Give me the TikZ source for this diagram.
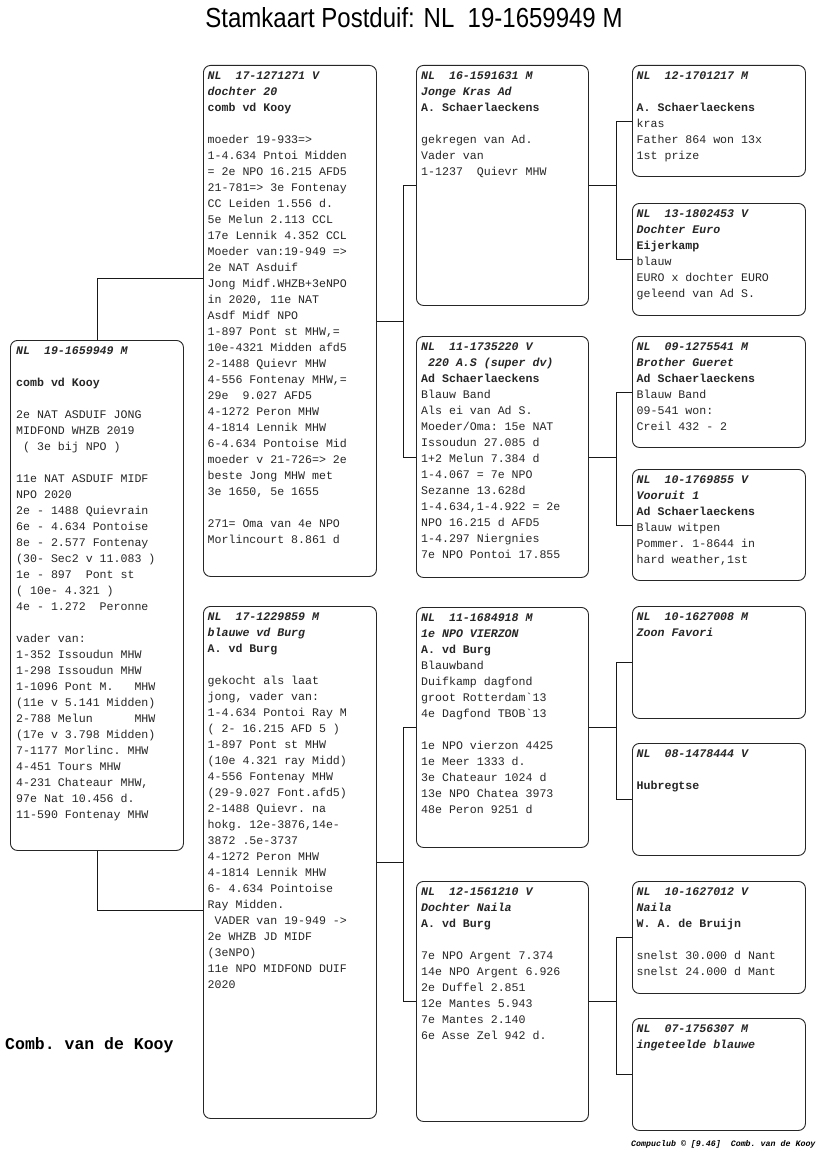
\documentclass[tikz,border=0pt]{standalone}
\usepackage{graphicx}
\usepackage{fontspec}
\setmonofont{Liberation Mono}
\newfontfamily\titlefont{Liberation Sans}
\tikzset{
  famBox/.style={draw=black!85, line width=0.9pt, rounded corners=7pt, inner sep=0pt, anchor=north west, fill=white},
  txt/.style={anchor=north west, inner sep=0pt, align=left, text=black!85,
    font=\ttfamily\fontsize{11.6}{16}\selectfont\frenchspacing},
  link/.style={draw=black!90, line width=0.8pt},
}
\newcommand\hd[1]{\textbf{\textit{#1}}}
\newcommand\nm[1]{\textbf{\textit{#1}}}
\newcommand\br[1]{\textbf{#1}}
\newcommand\lsp{\hphantom{x}}
\begin{document}
\begin{tikzpicture}[x=1pt,y=-1pt]
\useasboundingbox[fill=white] (0,0) rectangle (816,1172);

% title
\node[font=\titlefont\fontsize{24}{24}\selectfont] (title) at (414,18) {\scalebox{1}[1.15]{Stamkaart Postduif: NL\ \ 19-1659949 M}};

% boxes
\node[famBox, minimum width=173pt, minimum height=510pt] (A) at (10,340) {};
\node[famBox, minimum width=173pt, minimum height=511pt] (B) at (203,65) {};
\node[famBox, minimum width=173pt, minimum height=512pt] (C) at (203,606) {};
\node[famBox, minimum width=172pt, minimum height=240pt] (D) at (416,65) {};
\node[famBox, minimum width=172pt, minimum height=241pt] (E) at (416,336) {};
\node[famBox, minimum width=172pt, minimum height=240pt] (F) at (416,607) {};
\node[famBox, minimum width=172pt, minimum height=240pt] (G) at (416,881) {};
\node[famBox, minimum width=173pt, minimum height=111pt] (H) at (632,65) {};
\node[famBox, minimum width=173pt, minimum height=112pt] (I) at (632,203) {};
\node[famBox, minimum width=173pt, minimum height=111pt] (J) at (632,336) {};
\node[famBox, minimum width=173pt, minimum height=111pt] (K) at (632,469) {};
\node[famBox, minimum width=173pt, minimum height=112pt] (L) at (632,606) {};
\node[famBox, minimum width=173pt, minimum height=112pt] (M) at (632,743) {};
\node[famBox, minimum width=173pt, minimum height=112pt] (N) at (632,881) {};
\node[famBox, minimum width=173pt, minimum height=112pt] (O) at (632,1018) {};

% connectors
\draw[link] (A.north) |- ([yshift=42.5pt]B.west);
\draw[link] (A.south) |- ([yshift=-48pt]C.west);
\draw[link] (B.east) -- ++(26,0) coordinate (bj);
\draw[link] (bj) |- (D.west);
\draw[link] (bj) |- (E.west);
\draw[link] (C.east) -- ++(26,0) coordinate (cj);
\draw[link] (cj) |- (F.west);
\draw[link] (cj) |- (G.west);
\draw[link] (D.east) -- ++(27,0) coordinate (dj);
\draw[link] (dj) |- (H.west);
\draw[link] (dj) |- (I.west);
\draw[link] (E.east) -- ++(27,0) coordinate (ej);
\draw[link] (ej) |- (J.west);
\draw[link] (ej) |- (K.west);
\draw[link] (F.east) -- ++(27,0) coordinate (fj);
\draw[link] (fj) |- (L.west);
\draw[link] (fj) |- (M.west);
\draw[link] (G.east) -- ++(27,0) coordinate (gj);
\draw[link] (gj) |- (N.west);
\draw[link] (gj) |- (O.west);

% texts
\node[txt] (At) at (16,343.5) {\strut\hd{NL\ \ 19-1659949 M}\\
\strut\\
\br{comb vd Kooy}\\
\strut\\
2e NAT ASDUIF JONG\\
MIDFOND WHZB 2019\\
\lsp( 3e bij NPO )\\
\strut\\
11e NAT ASDUIF MIDF\\
NPO 2020\\
2e - 1488 Quievrain\\
6e - 4.634 Pontoise\\
8e - 2.577 Fontenay\\
(30- Sec2 v 11.083 )\\
1e - 897\ \ Pont st\\
( 10e- 4.321 )\\
4e - 1.272\ \ Peronne\\
\strut\\
vader van:\\
1-352 Issoudun MHW\\
1-298 Issoudun MHW\\
1-1096 Pont M.\ \ \ MHW\\
(11e v 5.141 Midden)\\
2-788 Melun\ \ \ \ \ \ MHW\\
(17e v 3.798 Midden)\\
7-1177 Morlinc. MHW\\
4-451 Tours MHW\\
4-231 Chateaur MHW,\\
97e Nat 10.456 d.\\
11-590 Fontenay MHW};

\node[txt] (Bt) at (207.5,68.5) {\strut\hd{NL\ \ 17-1271271 V}\\
\nm{dochter 20}\\
\br{comb vd Kooy}\\
\strut\\
moeder 19-933=>\\
1-4.634 Pntoi Midden\\
= 2e NPO 16.215 AFD5\\
21-781=> 3e Fontenay\\
CC Leiden 1.556 d.\\
5e Melun 2.113 CCL\\
17e Lennik 4.352 CCL\\
Moeder van:19-949 =>\\
2e NAT Asduif\\
Jong Midf.WHZB+3eNPO\\
in 2020, 11e NAT\\
Asdf Midf NPO\\
1-897 Pont st MHW,=\\
10e-4321 Midden afd5\\
2-1488 Quievr MHW\\
4-556 Fontenay MHW,=\\
29e\ \ 9.027 AFD5\\
4-1272 Peron MHW\\
4-1814 Lennik MHW\\
6-4.634 Pontoise Mid\\
moeder v 21-726=> 2e\\
beste Jong MHW met\\
3e 1650, 5e 1655\\
\strut\\
271= Oma van 4e NPO\\
Morlincourt 8.861 d};

\node[txt] (Ct) at (207.5,609.5) {\strut\hd{NL\ \ 17-1229859 M}\\
\nm{blauwe vd Burg}\\
\br{A. vd Burg}\\
\strut\\
gekocht als laat\\
jong, vader van:\\
1-4.634 Pontoi Ray M\\
( 2- 16.215 AFD 5 )\\
1-897 Pont st MHW\\
(10e 4.321 ray Midd)\\
4-556 Fontenay MHW\\
(29-9.027 Font.afd5)\\
2-1488 Quievr. na\\
hokg. 12e-3876,14e-\\
3872 .5e-3737\\
4-1272 Peron MHW\\
4-1814 Lennik MHW\\
6- 4.634 Pointoise\\
Ray Midden.\\
\lsp VADER van 19-949 ->\\
2e WHZB JD MIDF\\
(3eNPO)\\
11e NPO MIDFOND DUIF\\
2020};

\node[txt] (Dt) at (421,68.5) {\strut\hd{NL\ \ 16-1591631 M}\\
\nm{Jonge Kras Ad}\\
\br{A. Schaerlaeckens}\\
\strut\\
gekregen van Ad.\\
Vader van\\
1-1237\ \ Quievr MHW};

\node[txt] (Et) at (421,339.5) {\strut\hd{NL\ \ 11-1735220 V}\\
\lsp\nm{220 A.S (super dv)}\\
\br{Ad Schaerlaeckens}\\
Blauw Band\\
Als ei van Ad S.\\
Moeder/Oma: 15e NAT\\
Issoudun 27.085 d\\
1+2 Melun 7.384 d\\
1-4.067 = 7e NPO\\
Sezanne 13.628d\\
1-4.634,1-4.922 = 2e\\
NPO 16.215 d AFD5\\
1-4.297 Niergnies\\
7e NPO Pontoi 17.855};

\node[txt] (Ft) at (421,610.5) {\strut\hd{NL\ \ 11-1684918 M}\\
\nm{1e NPO VIERZON}\\
\br{A. vd Burg}\\
Blauwband\\
Duifkamp dagfond\\
groot Rotterdam\textasciigrave 13\\
4e Dagfond TBOB\textasciigrave 13\\
\strut\\
1e NPO vierzon 4425\\
1e Meer 1333 d.\\
3e Chateaur 1024 d\\
13e NPO Chatea 3973\\
48e Peron 9251 d};

\node[txt] (Gt) at (421,884.5) {\strut\hd{NL\ \ 12-1561210 V}\\
\nm{Dochter Naila}\\
\br{A. vd Burg}\\
\strut\\
7e NPO Argent 7.374\\
14e NPO Argent 6.926\\
2e Duffel 2.851\\
12e Mantes 5.943\\
7e Mantes 2.140\\
6e Asse Zel 942 d.};

\node[txt] (Ht) at (636.5,68.5) {\strut\hd{NL\ \ 12-1701217 M}\\
\strut\\
\br{A. Schaerlaeckens}\\
kras\\
Father 864 won 13x\\
1st prize};

\node[txt] (It) at (636.5,206.5) {\strut\hd{NL\ \ 13-1802453 V}\\
\nm{Dochter Euro}\\
\br{Eijerkamp}\\
blauw\\
EURO x dochter EURO\\
geleend van Ad S.};

\node[txt] (Jt) at (636.5,339.5) {\strut\hd{NL\ \ 09-1275541 M}\\
\nm{Brother Gueret}\\
\br{Ad Schaerlaeckens}\\
Blauw Band\\
09-541 won:\\
Creil 432 - 2};

\node[txt] (Kt) at (636.5,472.5) {\strut\hd{NL\ \ 10-1769855 V}\\
\nm{Vooruit 1}\\
\br{Ad Schaerlaeckens}\\
Blauw witpen\\
Pommer. 1-8644 in\\
hard weather,1st};

\node[txt] (Lt) at (636.5,609.5) {\strut\hd{NL\ \ 10-1627008 M}\\
\nm{Zoon Favori}};

\node[txt] (Mt) at (636.5,746.5) {\strut\hd{NL\ \ 08-1478444 V}\\
\strut\\
\br{Hubregtse}};

\node[txt] (Nt) at (636.5,884.5) {\strut\hd{NL\ \ 10-1627012 V}\\
\nm{Naila}\\
\br{W. A. de Bruijn}\\
\strut\\
snelst 30.000 d Nant\\
snelst 24.000 d Mant};

\node[txt] (Ot) at (636.5,1021.5) {\strut\hd{NL\ \ 07-1756307 M}\\
\nm{ingeteelde blauwe}};

% bottom texts
\node[anchor=base west, inner sep=0pt, font=\ttfamily\bfseries\fontsize{16.5}{18}\selectfont\frenchspacing] (owner) at (5,1049) {Comb. van de Kooy};
\node[anchor=base west, inner sep=0pt, font=\ttfamily\bfseries\itshape\fontsize{8.3}{10}\selectfont\frenchspacing] (footer) at (631,1146) {Compuclub \textcopyright\ [9.46]\ \ Comb. van de Kooy};
\end{tikzpicture}
\end{document}
